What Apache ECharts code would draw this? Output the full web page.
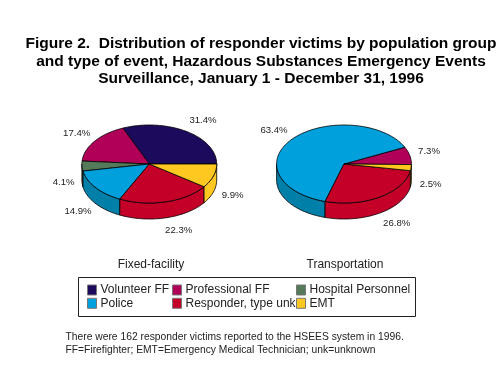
<!DOCTYPE html>
<html><head><meta charset="utf-8">
<style>html,body{margin:0;padding:0;background:#fff}#c{width:500px;height:387px}</style>
<script src="https://cdn.jsdelivr.net/npm/echarts@6/dist/echarts.min.js"></script>
</head><body><div id="c"></div>
<script>
const categories = ['Volunteer FF','Professional FF','Hospital Personnel','Police','Responder, type unk','EMT'];
const fixedFacility = {'Volunteer FF':31.4,'EMT':9.9,'Responder, type unk':22.3,'Police':14.9,'Hospital Personnel':4.1,'Professional FF':17.4};
const transportation = {'Police':63.4,'Professional FF':7.3,'EMT':2.5,'Responder, type unk':26.8};
const pieTitles = ['Fixed-facility','Transportation'];
const titleLines = ['Figure 2.  Distribution of responder victims by population group','and type of event, Hazardous Substances Emergency Events','Surveillance, January 1 - December 31, 1996'];
const noteLines = ['There were 162 responder victims reported to the HSEES system in 1996.','FF=Firefighter; EMT=Emergency Medical Technician; unk=unknown'];

const topColors = {'Volunteer FF':'#1c0a5c','Professional FF':'#b00058','Hospital Personnel':'#557a5a','Police':'#00a0dc','Responder, type unk':'#c40028','EMT':'#ffc820'};
const sideColors = {'Volunteer FF':'#150748','Professional FF':'#8c0046','Hospital Personnel':'#3f5c44','Police':'#0080a8','Responder, type unk':'#c40028','EMT':'#ffc820'};

const pies = [
  {values:fixedFacility, cx:149.3, start:-23.04,
   order:['Volunteer FF','EMT','Responder, type unk','Police','Hospital Personnel','Professional FF'],
   labelPos:{'Volunteer FF':[203,120.5],'EMT':[232.7,195.8],'Responder, type unk':[178.7,230],'Police':[78,211.5],'Hospital Personnel':[63.7,182.8],'Professional FF':[76.7,133.5]}},
  {values:transportation, cx:344, start:196.3,
   order:['Police','Professional FF','EMT','Responder, type unk'],
   labelPos:{'Police':[274,130.2],'Professional FF':[429,151.5],'EMT':[430.7,184],'Responder, type unk':[396.7,223.5]}}
];
const CY=164, RX=67.4, RY=39, DEPTH=16;

function pt(cx,deg,dy){const r=deg*Math.PI/180;return [cx+RX*Math.sin(r),CY-RY*Math.cos(r)+(dy||0)];}
function arc(cx,a,b,dy){const n=Math.max(2,Math.ceil((b-a)/2)),o=[];for(let i=0;i<=n;i++)o.push(pt(cx,a+(b-a)*i/n,dy));return o;}

function renderSlice(name){
  return function(params,api){
    const p=pies[api.value(0)], children=[];
    let a=p.start;
    for(const n of p.order){
      const sweep=p.values[n]*3.6;
      if(n===name){
        const b=a+sweep;
        for(const k of [0,360]){
          const s=Math.max(a,90+k), e=Math.min(b,270+k);
          if(e-s>1){
            const top=arc(p.cx,s,e,0), bot=arc(p.cx,s,e,DEPTH).reverse();
            children.push({type:'polygon',shape:{points:top.concat(bot)},style:{fill:sideColors[n],stroke:'#000',lineWidth:0.8}});
          }
        }
        children.push({type:'polygon',shape:{points:[[p.cx,CY]].concat(arc(p.cx,a,b,0))},style:{fill:topColors[n],stroke:'#000',lineWidth:0.8,lineJoin:'round'}});
        children.push({type:'text',style:{text:p.values[n].toFixed(1)+'%',x:p.labelPos[n][0],y:p.labelPos[n][1],fill:'#222',font:'9.6px "Liberation Sans"',textAlign:'center',textVerticalAlign:'middle'}});
      }
      a+=sweep;
    }
    return {type:'group',children};
  };
}

const series=categories.map(name=>({
  type:'custom',name,coordinateSystem:'none',
  itemStyle:{color:topColors[name]},
  silent:true,animation:false,
  data:pies.map((p,i)=>[i,p.values[name]]).filter(d=>d[1]!==undefined),
  renderItem:renderSlice(name)
}));

const legendBase={orient:'vertical',padding:0,itemWidth:9,itemHeight:10,itemGap:1.3,selectedMode:false,icon:'rect',
  itemStyle:{borderColor:'#777',borderWidth:1},
  textStyle:{fontFamily:'Liberation Sans',fontSize:12,color:'#222',padding:[0,0,2,-1]},top:284};

const option={
  animation:false,backgroundColor:'#fff',
  title:[
    {text:titleLines.join('\n'),left:261,top:35,padding:0,textAlign:'center',textStyle:{fontFamily:'Liberation Sans',fontSize:15.5,fontWeight:'bold',color:'#000',lineHeight:17.5}},
    {text:pieTitles[0],left:151,top:259,padding:0,textAlign:'center',textStyle:{fontFamily:'Liberation Sans',fontSize:12,fontWeight:'normal',color:'#222'}},
    {text:pieTitles[1],left:345,top:259,padding:0,textAlign:'center',textStyle:{fontFamily:'Liberation Sans',fontSize:12,fontWeight:'normal',color:'#222'}},
    {text:noteLines.join('\n'),left:65.5,top:330,padding:0,textStyle:{fontFamily:'Liberation Sans',fontSize:10.3,fontWeight:'normal',color:'#222',lineHeight:13.7}}
  ],
  legend:[
    Object.assign({},legendBase,{left:87,data:['Volunteer FF','Police']}),
    Object.assign({},legendBase,{left:172,data:['Professional FF','Responder, type unk']}),
    Object.assign({},legendBase,{left:296,data:['Hospital Personnel','EMT']})
  ],
  graphic:[{type:'rect',shape:{x:78.5,y:277.5,width:337,height:39},style:{fill:'none',stroke:'#222',lineWidth:1}}],
  series
};
echarts.init(document.getElementById('c'),null,{renderer:'canvas'}).setOption(option);
</script></body></html>
